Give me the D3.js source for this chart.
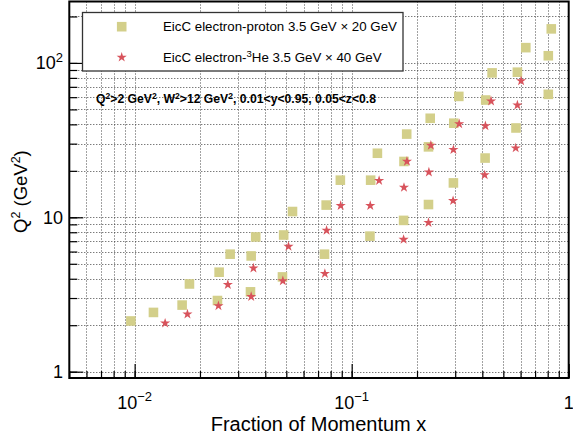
<!DOCTYPE html>
<html>
<head>
<meta charset="utf-8">
<script src="https://cdn.jsdelivr.net/npm/d3@7"></script>
<style>
  html, body { margin: 0; padding: 0; background: #fff; }
  svg { display: block; font-family: "Liberation Sans", Arial, Helvetica, sans-serif; }
</style>
</head>
<body>
<svg id="chart" width="573" height="437"></svg>
<script>
// electron-proton 3.5 GeV x 20 GeV bins: Bjorken x and Q^2 (GeV^2)
const epX = [0.00961, 0.01221, 0.01655, 0.01789, 0.02408, 0.02451, 0.02755, 0.03418, 0.03443, 0.03614,
             0.04799, 0.04861, 0.05338, 0.07494, 0.07630, 0.08869, 0.1214, 0.1223, 0.1314, 0.1735,
             0.1742, 0.1793, 0.2259, 0.2259, 0.2301, 0.2943, 0.2955, 0.3116, 0.4119, 0.4146,
             0.4436, 0.5716, 0.5802, 0.6344, 0.8054, 0.8054, 0.8312];
const epQ2 = [2.13, 2.42, 2.70, 3.70, 2.89, 4.41, 5.77, 3.29, 5.62, 7.46,
              4.11, 7.68, 10.9, 5.77, 12.0, 17.4, 7.55, 17.4, 26.0, 9.55,
              23.0, 34.6, 12.1, 28.6, 43.8, 16.7, 40.7, 60.7, 24.2, 57.5,
              86.2, 37.9, 87.1, 125.6, 62.6, 111.3, 166.2];

// electron-3He 3.5 GeV x 40 GeV bins
const heX = [0.01382, 0.01751, 0.02433, 0.02688, 0.03443, 0.03527, 0.04819, 0.05116, 0.07525, 0.07663,
             0.08899, 0.1218, 0.1338, 0.1735, 0.1742, 0.1798, 0.2259, 0.2269, 0.2317, 0.2933,
             0.2943, 0.3129, 0.4102, 0.4133, 0.4389, 0.5699, 0.5802, 0.6034];
const heQ2 = [2.06, 2.36, 2.67, 3.66, 3.06, 4.68, 3.87, 6.47, 4.32, 8.23,
              11.9, 11.9, 17.3, 7.18, 15.6, 23.0, 9.23, 19.6, 29.2, 12.8,
              27.4, 40.3, 18.8, 39.1, 56.6, 28.1, 53.3, 76.4];

// axis tick values and labels
const xMajor = [0.01, 0.1, 1];
const xMajorLabels = [["10", "\u22122"], ["10", "\u22121"], ["1", ""]];
const yMajor = [1, 10, 100];
const yMajorLabels = [["1", ""], ["10", ""], ["10", "2"]];

// text pieces: [string, isSuperscript]
const legendLabels = [
  [["EicC electron-proton 3.5 GeV \u00d7 20 GeV", false]],
  [["EicC electron-", false], ["3", true], ["He 3.5 GeV \u00d7 40 GeV", false]]
];
const cutText = [["Q", false], ["2", true], [">2 GeV", false], ["2", true], [", W", false], ["2", true],
                 [">12 GeV", false], ["2", true], [", 0.01<y<0.95, 0.05<z<0.8", false]];
const yTitle = [["Q", false], ["2", true], [" (GeV", false], ["2", true], [")", false]];

const colSquare = "#d3cf8a";
const colStar = "#d8535c";

const svg = d3.select("#chart");
const W = 573, H = 437;
svg.append("rect").attr("width", W).attr("height", H).attr("fill", "#fff");

const pLeft = 69.3, pRight = 568.7, pTop = 1.5, pBottom = 378;
const x = d3.scaleLog().domain([0.005, 1]).range([pLeft, pRight]);
const y = d3.scaleLog().domain([0.91, 250]).range([pBottom, pTop]);

// every decade subdivision inside the frame
function logSteps(lo, hi) {
  const out = [];
  for (let e = -3; e <= 3; e++) {
    for (let m = 1; m <= 9; m++) {
      const v = +(m * Math.pow(10, e)).toPrecision(3);
      if (v >= lo * 0.9999 && v <= hi * 1.0001) out.push(v);
    }
  }
  return out;
}
const xAll = logSteps(0.005, 1);
const yAll = logSteps(0.91, 250);

// dotted grid
const grid = svg.append("g").attr("stroke", "#444").attr("stroke-width", 1)
  .attr("stroke-dasharray", "1,2").attr("fill", "none");
grid.selectAll("line.gx").data(xAll.filter(v => v > 0.005 && v < 1)).join("line")
  .attr("x1", d => Math.round(x(d)) + 0.5).attr("x2", d => Math.round(x(d)) + 0.5)
  .attr("y1", pTop).attr("y2", pBottom);
grid.selectAll("line.gy").data(yAll).join("line")
  .attr("y1", d => Math.round(y(d)) + 0.5).attr("y2", d => Math.round(y(d)) + 0.5)
  .attr("x1", pLeft).attr("x2", pRight);

// inward ticks via d3 axes
function styleAxis(g) {
  g.select(".domain").remove();
  g.selectAll(".tick line").attr("stroke", "#000").attr("stroke-width", 1.2);
  g.selectAll(".tick text").remove();
}
svg.append("g").attr("transform", `translate(0,${pBottom})`)
  .call(d3.axisBottom(x).tickValues(xAll).tickSize(-7).tickFormat(""))
  .call(styleAxis);
svg.append("g").attr("transform", `translate(0,${pBottom})`)
  .call(d3.axisBottom(x).tickValues(xMajor).tickSize(-14).tickFormat(""))
  .call(styleAxis);
svg.append("g").attr("transform", `translate(${pLeft},0)`)
  .call(d3.axisLeft(y).tickValues(yAll).tickSize(-8).tickFormat(""))
  .call(styleAxis);
svg.append("g").attr("transform", `translate(${pLeft},0)`)
  .call(d3.axisLeft(y).tickValues(yMajor).tickSize(-14).tickFormat(""))
  .call(styleAxis);

// frame
svg.append("rect").attr("x", pLeft).attr("y", pTop).attr("width", pRight - pLeft).attr("height", pBottom - pTop)
  .attr("fill", "none").attr("stroke", "#000").attr("stroke-width", 2);

// text with superscript pieces
function richText(sel, parts, supSize, rise) {
  let prevSup = false;
  parts.forEach(([s, sup]) => {
    if (!s) return;
    const ts = sel.append("tspan").text(s);
    if (sup) ts.attr("dy", -rise).attr("font-size", supSize);
    else if (prevSup) ts.attr("dy", rise);
    prevSup = sup;
  });
}

const fs = 18;
xMajor.forEach((v, i) => {
  const t = svg.append("text").attr("x", x(v)).attr("y", 408.5).attr("font-size", fs)
    .attr("text-anchor", "middle").attr("fill", "#000");
  richText(t, [[xMajorLabels[i][0], false], [xMajorLabels[i][1], true]], 13, 7.5);
});
yMajor.forEach((v, i) => {
  const t = svg.append("text").attr("x", 63).attr("y", y(v) + 6.5).attr("font-size", fs)
    .attr("text-anchor", "end").attr("fill", "#000");
  richText(t, [[yMajorLabels[i][0], false], [yMajorLabels[i][1], true]], 13, 7.5);
});

// axis titles
svg.append("text").attr("x", 318.5).attr("y", 430.5).attr("font-size", 20)
  .attr("text-anchor", "middle").attr("fill", "#000").text("Fraction of Momentum x");
const yt = svg.append("text").attr("transform", "translate(27,233) rotate(-90)")
  .attr("font-size", 18.5).attr("text-anchor", "start").attr("fill", "#000");
richText(yt, yTitle, 12.5, 7);

// data markers
const square = d3.symbol().type(d3.symbolSquare).size(92);
const star = d3.symbol().type(d3.symbolStar).size(32);
svg.append("g").selectAll("path").data(d3.zip(epX, epQ2)).join("path")
  .attr("d", square).attr("fill", colSquare)
  .attr("transform", d => `translate(${x(d[0])},${y(d[1])})`);
svg.append("g").selectAll("path").data(d3.zip(heX, heQ2)).join("path")
  .attr("d", star).attr("fill", colStar)
  .attr("transform", d => `translate(${x(d[0])},${y(d[1])})`);

// legend
const lg = svg.append("g");
lg.append("rect").attr("x", 82.5).attr("y", 12.5).attr("width", 320.5).attr("height", 58.5)
  .attr("fill", "#fff").attr("stroke", "#333").attr("stroke-width", 1.3);
const rows = [26.7, 57.3];
lg.append("path").attr("d", square).attr("fill", colSquare).attr("transform", `translate(121.7,${rows[0]})`);
lg.append("path").attr("d", star).attr("fill", colStar).attr("transform", `translate(121.7,${rows[1]})`);
legendLabels.forEach((parts, i) => {
  const t = lg.append("text").attr("x", 163).attr("y", rows[i] + 4.7).attr("font-size", 13.3).attr("fill", "#000");
  richText(t, parts, 9.5, 5);
});

// kinematic cuts annotation
const ct = svg.append("text").attr("x", 96).attr("y", 103).attr("font-size", 12.2)
  .attr("font-weight", "bold").attr("fill", "#000");
richText(ct, cutText, 8.6, 4.5);
</script>
</body>
</html>
